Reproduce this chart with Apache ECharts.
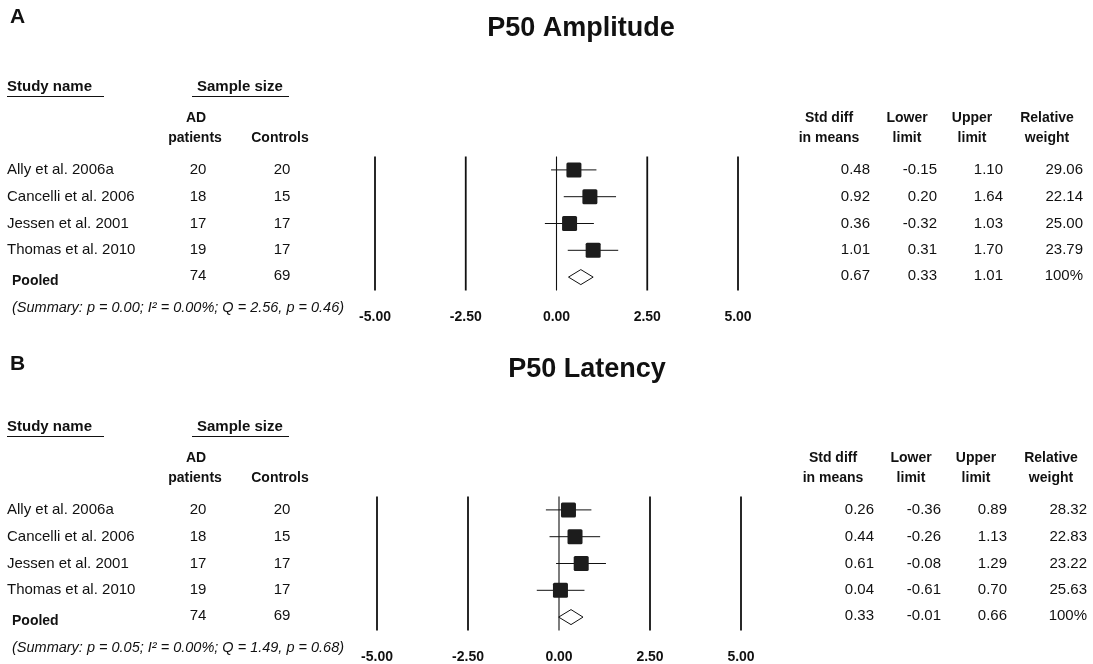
<!DOCTYPE html>
<html><head><meta charset="utf-8">
<script src="https://cdn.jsdelivr.net/npm/echarts@6/dist/echarts.min.js"></script>
<style>html,body{margin:0;padding:0;background:#fff}#c{width:1093px;height:664px}</style>
</head><body><div id="c"></div>
<script>
// ---------- data ----------
const studies = ['Ally et al. 2006a', 'Cancelli et al. 2006', 'Jessen et al. 2001', 'Thomas et al. 2010'];
const adPatients = [20, 18, 17, 19];
const controls = [20, 15, 17, 17];
const pooledN = [74, 69];
const xTicks = [-5, -2.5, 0, 2.5, 5];

const ampMean = [0.48, 0.92, 0.36, 1.01];
const ampLower = [-0.15, 0.20, -0.32, 0.31];
const ampUpper = [1.10, 1.64, 1.03, 1.70];
const ampWeight = ['29.06', '22.14', '25.00', '23.79'];
const ampPooled = [0.67, 0.33, 1.01];
const ampSummary = '(Summary: p = 0.00; I\u00B2 = 0.00%; Q = 2.56, p = 0.46)';

const latMean = [0.26, 0.44, 0.61, 0.04];
const latLower = [-0.36, -0.26, -0.08, -0.61];
const latUpper = [0.89, 1.13, 1.29, 0.70];
const latWeight = ['28.32', '22.83', '23.22', '25.63'];
const latPooled = [0.33, -0.01, 0.66];
const latSummary = '(Summary: p = 0.05; I\u00B2 = 0.00%; Q = 1.49, p = 0.68)';

// ---------- layout ----------
const FF = '"Liberation Sans", Arial, Helvetica, sans-serif';
const INK = '#111';
const panels = [
  { letter: 'A', title: 'P50 Amplitude', dy: 0, letterY: 17.5, titleY: 28.5, plotLeft: 375, plotWidth: 363, dxR: 0, titleX: 581,
    mean: ampMean, lower: ampLower, upper: ampUpper, weight: ampWeight, pooled: ampPooled, summary: ampSummary },
  { letter: 'B', title: 'P50 Latency', dy: 340, letterY: 364, titleY: 370, plotLeft: 377, plotWidth: 364, dxR: 4, titleX: 587,
    mean: latMean, lower: latLower, upper: latUpper, weight: latWeight, pooled: latPooled, summary: latSummary }
];

const chart = echarts.init(document.getElementById('c'), null, { renderer: 'canvas' });

const grids = [], xAxes = [], yAxes = [], series = [], graphics = [];

function txt(text, x, y, opt) {
  return { type: 'text', x: x, y: y, style: Object.assign({
    text: text, fill: INK, font: '15px ' + FF, align: 'left', verticalAlign: 'middle' }, opt || {}) };
}

panels.forEach(function (p, gi) {
  const dy = p.dy;
  grids.push({ left: p.plotLeft, top: 156.5 + dy, width: p.plotWidth, height: 134, containLabel: false });
  xAxes.push({
    type: 'value', gridIndex: gi, min: -5, max: 5, interval: 2.5,
    axisLine: { show: false }, axisTick: { show: false }, splitLine: { show: false },
    axisLabel: { show: true, margin: 19.5, showMinLabel: true, showMaxLabel: true,
      color: INK, fontWeight: 'bold', fontSize: 14, fontFamily: FF,
      formatter: function (v) { return v.toFixed(2); } }
  });
  yAxes.push({ type: 'value', gridIndex: gi, min: -0.5, max: 4.5, inverse: true, show: false });

  // vertical reference lines
  series.push({
    type: 'custom', xAxisIndex: gi, yAxisIndex: gi, silent: true,
    data: xTicks.map(function (t) { return [t]; }),
    renderItem: function (params, api) {
      const t = api.value(0);
      const a = api.coord([t, -0.5]), b = api.coord([t, 4.5]);
      return { type: 'line', shape: { x1: a[0], y1: a[1], x2: b[0], y2: b[1] },
        style: { stroke: INK, lineWidth: t === 0 ? 1.1 : 1.8 } };
    }
  });

  // study rows: whisker + square
  series.push({
    type: 'custom', xAxisIndex: gi, yAxisIndex: gi, silent: true,
    data: studies.map(function (s, i) { return [i, p.mean[i], p.lower[i], p.upper[i]]; }),
    renderItem: function (params, api) {
      const i = api.value(0);
      const c = api.coord([api.value(1), i]);
      const lo = api.coord([api.value(2), i]);
      const hi = api.coord([api.value(3), i]);
      const s = 15;
      return { type: 'group', children: [
        { type: 'line', shape: { x1: lo[0], y1: lo[1], x2: hi[0], y2: hi[1] }, style: { stroke: INK, lineWidth: 1 } },
        { type: 'rect', shape: { x: c[0] - s / 2, y: c[1] - s / 2, width: s, height: s, r: 1.5 }, style: { fill: '#1c1c1c' } }
      ] };
    }
  });

  // pooled diamond
  series.push({
    type: 'custom', xAxisIndex: gi, yAxisIndex: gi, silent: true,
    data: [[4, p.pooled[0], p.pooled[1], p.pooled[2]]],
    renderItem: function (params, api) {
      const i = api.value(0);
      const c = api.coord([api.value(1), i]);
      const lo = api.coord([api.value(2), i]);
      const hi = api.coord([api.value(3), i]);
      const h = 7.5;
      return { type: 'polygon', shape: { points: [[lo[0], c[1]], [c[0], c[1] - h], [hi[0], c[1]], [c[0], c[1] + h]] },
        style: { fill: '#fff', stroke: INK, lineWidth: 1 } };
    }
  });

  // table text rows, positioned on the row axis
  const rowData = studies.map(function (s, i) {
    return [i, s, adPatients[i], controls[i], p.mean[i].toFixed(2), p.lower[i].toFixed(2), p.upper[i].toFixed(2), p.weight[i], 0];
  });
  rowData.push([4, 'Pooled', pooledN[0], pooledN[1], p.pooled[0].toFixed(2), p.pooled[1].toFixed(2), p.pooled[2].toFixed(2), '100%', 1]);
  series.push({
    type: 'custom', xAxisIndex: gi, yAxisIndex: gi, silent: true, clip: false,
    data: rowData,
    renderItem: function (params, api) {
      const d = rowData[params.dataIndex];
      const y = api.coord([0, d[0]])[1];
      const pooled = d[8] === 1;
      const r = p.dxR;
      const ch = [];
      if (pooled) ch.push(txt(d[1], 12, y + 4.5, { font: 'bold 14px ' + FF }));
      else ch.push(txt(d[1], 7, y));
      const ny = pooled ? y - 1 : y;
      ch.push(txt(String(d[2]), 198, ny, { align: 'center' }));
      ch.push(txt(String(d[3]), 282, ny, { align: 'center' }));
      ch.push(txt(d[4], 870 + r, ny, { align: 'right' }));
      ch.push(txt(d[5], 937 + r, ny, { align: 'right' }));
      ch.push(txt(d[6], 1003 + r, ny, { align: 'right' }));
      ch.push(txt(d[7], 1083 + r, ny, { align: 'right' }));
      return { type: 'group', children: ch };
    }
  });

  // headers
  const r = p.dxR;
  graphics.push(txt(p.letter, 10, p.letterY, { font: 'bold 21px ' + FF }));
  graphics.push(txt(p.title, p.titleX, p.titleY, { font: 'bold 27px ' + FF, align: 'center' }));
  graphics.push(txt('Study name', 7, 87 + dy, { font: 'bold 15px ' + FF }));
  graphics.push({ type: 'line', shape: { x1: 7, y1: 96.5 + dy, x2: 104, y2: 96.5 + dy }, style: { stroke: INK, lineWidth: 1.2 } });
  graphics.push(txt('Sample size', 197, 87 + dy, { font: 'bold 15px ' + FF }));
  graphics.push({ type: 'line', shape: { x1: 192, y1: 96.5 + dy, x2: 289, y2: 96.5 + dy }, style: { stroke: INK, lineWidth: 1.2 } });
  graphics.push(txt('AD', 196, 118.5 + dy, { font: 'bold 14px ' + FF, align: 'center' }));
  graphics.push(txt('patients', 195, 138 + dy, { font: 'bold 14px ' + FF, align: 'center' }));
  graphics.push(txt('Controls', 280, 138 + dy, { font: 'bold 14px ' + FF, align: 'center' }));
  [['Std diff', 'in means', 829], ['Lower', 'limit', 907], ['Upper', 'limit', 972], ['Relative', 'weight', 1047]].forEach(function (h) {
    graphics.push(txt(h[0], h[2] + r, 118 + dy, { font: 'bold 14px ' + FF, align: 'center' }));
    graphics.push(txt(h[1], h[2] + r, 138 + dy, { font: 'bold 14px ' + FF, align: 'center' }));
  });
  graphics.push(txt(p.summary, 12, 307.5 + dy, { font: 'italic 14.5px ' + FF }));
});

chart.setOption({
  animation: false,
  backgroundColor: '#fff',
  grid: grids, xAxis: xAxes, yAxis: yAxes, series: series,
  graphic: { elements: graphics }
});
</script>
</body></html>
